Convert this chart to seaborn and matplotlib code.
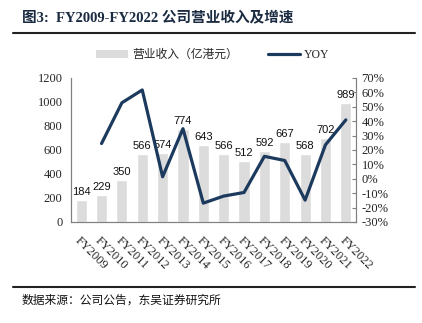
import matplotlib
matplotlib.use("Agg")
import matplotlib.pyplot as plt
import seaborn as sns
import pandas as pd
import numpy as np
from matplotlib.patches import Patch
from matplotlib.lines import Line2D

years = ["FY2009", "FY2010", "FY2011", "FY2012", "FY2013", "FY2014", "FY2015",
         "FY2016", "FY2017", "FY2018", "FY2019", "FY2020", "FY2021", "FY2022"]
revenue = [184, 229, 350, 566, 574, 774, 643, 566, 512, 592, 667, 568, 702, 989]
yoy = [np.nan, 24.5, 52.8, 61.7, 1.4, 34.8, -16.9, -12.0, -9.5, 15.6, 12.7, -14.8, 23.6, 40.9]
left_ticks = [0, 200, 400, 600, 800, 1000, 1200]
right_ticks = [-30, -20, -10, 0, 10, 20, 30, 40, 50, 60, 70]

sns.set_style("white")
plt.rcParams['font.family'] = ['Liberation Serif', 'Noto Sans CJK SC', 'DejaVu Sans']

bar_color = "#dcdcdc"
line_color = "#1c3a5e"
cjk = ['Noto Sans CJK SC', 'DejaVu Sans']

df = pd.DataFrame({"year": years, "revenue": revenue, "yoy": yoy})

fig = plt.figure(figsize=(4.22, 3.23), dpi=100)
ax = fig.add_axes([71/422, 1 - 222/323, (356-71)/422, (222-78)/323])

sns.barplot(data=df, x="year", y="revenue", color=bar_color, width=0.55,
            ax=ax, saturation=1)
ax.set_xlim(-0.5, len(years) - 0.5)
ax.set_ylim(0, 1200)
ax.set_yticks(left_ticks)
ax.set_yticklabels([str(t) for t in left_ticks], fontsize=9)
ax.set_xlabel("")
ax.set_ylabel("")

for i, v in enumerate(revenue):
    ax.text(i, v + 25, str(v), ha="center", va="bottom", fontsize=8,
            family=['Liberation Sans', 'DejaVu Sans'], color="#111111")

ax.set_xticks(np.arange(len(years)))
ax.set_xticklabels(years, rotation=-45, ha="left", va="top", rotation_mode="anchor",
                   fontsize=9)
ax.tick_params(axis="x", length=0, pad=9)
ax.set_xticks(np.arange(len(years) + 1) - 0.5, minor=True)
ax.tick_params(axis="x", which="minor", direction="in", length=3, color="#808080")
ax.tick_params(axis="y", length=0, pad=6)

ax2 = ax.twinx()
sns.lineplot(x=np.arange(len(years)), y=df["yoy"], ax=ax2, color=line_color,
             linewidth=2.3)
ax2.set_ylim(-30, 70)
ax2.set_yticks(right_ticks)
ax2.set_yticklabels([f"{t}%" for t in right_ticks], fontsize=9)
ax2.tick_params(axis="y", direction="in", length=3, color="#808080", pad=4)
ax2.set_ylabel("")
ax2.set_xlim(-0.5, len(years) - 0.5)

for a in (ax, ax2):
    a.spines["top"].set_visible(False)
    for s in ("left", "right", "bottom"):
        a.spines[s].set_color("#808080")
        a.spines[s].set_linewidth(0.8)

# legend
handles = [Patch(facecolor=bar_color, edgecolor="none"),
           Line2D([0], [0], color=line_color, linewidth=2.3)]
fig.legend(handles, ["营业收入（亿港元）", "YOY"], loc="center left",
           bbox_to_anchor=(94/422, 1 - 55/323), ncol=2, frameon=False,
           handlelength=2.7, columnspacing=2.6, handletextpad=0.3,
           borderpad=0.2, borderaxespad=0,
           prop={'family': ['Liberation Serif', 'Noto Sans CJK SC'], 'size': 8.5})

# title
fig.text(22/422, 1 - 17/323, "图3:  FY2009-FY2022 公司营业收入及增速",
         fontsize=10.5, fontweight="bold", color="#1a2a40",
         family=['Liberation Serif', 'Noto Sans CJK SC'], va="center", ha="left")
fig.add_artist(Line2D([13/422, 415/422], [1 - 33/323, 1 - 33/323],
                      color="#222222", linewidth=1.5))
fig.add_artist(Line2D([13/422, 415/422], [1 - 287/323, 1 - 287/323],
                      color="#222222", linewidth=1.5))
fig.text(22/422, 1 - 300/323, "数据来源：公司公告，东吴证券研究所", fontsize=8.5,
         family=cjk, va="center", ha="left", color="#111111")

fig.savefig("out.png", dpi=100)
